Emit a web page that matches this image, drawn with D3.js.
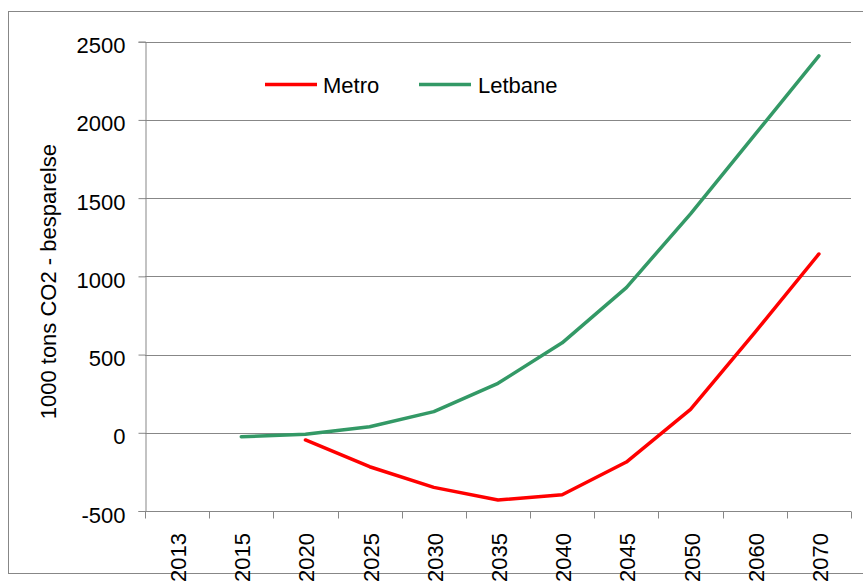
<!DOCTYPE html>
<html>
<head>
<meta charset="utf-8">
<script src="https://cdn.jsdelivr.net/npm/d3@7"></script>
<style>
  html, body { margin: 0; padding: 0; background: #fff; }
  svg { display: block; }
  text { font-family: "Liberation Sans", Arial, sans-serif; fill: #000; }
</style>
</head>
<body>
<svg id="chart" width="863" height="581"></svg>
<script>
const years = ["2013","2015","2020","2025","2030","2035","2040","2045","2050","2060","2070"];
const metro = [null, null, -46, -217, -349, -430, -396, -187, 150, 640, 1143];
const letbane = [null, -25, -10, 39, 135, 316, 575, 928, 1400, 1904, 2409];
const yTicks = [-500, 0, 500, 1000, 1500, 2000, 2500];
const seriesNames = ["Metro", "Letbane"];
const seriesColors = ["#FF0000", "#339966"];

const svg = d3.select("#chart");
const gridColor = "#878787";

// outer border
svg.append("rect")
  .attr("x", 8.5).attr("y", 11.5)
  .attr("width", 870).attr("height", 562)
  .attr("fill", "none").attr("stroke", gridColor).attr("stroke-width", 1);

const pLeft = 145, pRight = 851, pTop = 41.7, pBottom = 511;

const x = d3.scaleBand().domain(years).range([pLeft, pRight]).padding(0);
const y = d3.scaleLinear().domain([-500, 2500]).range([pBottom, pTop]);

// gridlines
svg.append("g").selectAll("line").data(yTicks).join("line")
  .attr("x1", pLeft).attr("x2", pRight)
  .attr("y1", d => Math.round(y(d)) + 0.5).attr("y2", d => Math.round(y(d)) + 0.5)
  .attr("stroke", gridColor).attr("stroke-width", 1);

// y axis
const yAxis = svg.append("g")
  .attr("transform", `translate(${pLeft + 0.5},0)`)
  .call(d3.axisLeft(y).tickValues(yTicks).tickSize(7).tickPadding(13).tickFormat(d => String(d)));
yAxis.select(".domain").attr("stroke", gridColor);
yAxis.selectAll(".tick line").attr("stroke", gridColor);
yAxis.selectAll(".tick text")
  .style("font-size", "22px")
  .style("font-family", '"Liberation Sans", Arial, sans-serif')
  .attr("fill", "#000")
  .attr("dy", "0.5em");

// x axis
const xAxis = svg.append("g")
  .attr("transform", `translate(0,${Math.round(pBottom) + 0.5})`)
  .call(d3.axisBottom(x).tickSize(0).tickPadding(0));
xAxis.select(".domain").attr("stroke", gridColor).attr("d", `M${pLeft},0H${pRight}`);
xAxis.selectAll(".tick text").remove();
// tick marks at band boundaries
const bounds = years.map(d => x(d)).concat([x(years[years.length - 1]) + x.bandwidth()]);
xAxis.append("g").selectAll("line").data(bounds).join("line")
  .attr("x1", d => Math.round(d) + 0.5).attr("x2", d => Math.round(d) + 0.5)
  .attr("y1", 0).attr("y2", 7)
  .attr("stroke", gridColor);
// rotated labels
svg.append("g").selectAll("text").data(years).join("text")
  .attr("transform", d => `translate(${x(d) + x.bandwidth() / 2 + 9},533) rotate(-90)`)
  .attr("text-anchor", "end")
  .style("font-size", "22px")
  .text(d => d);

// y axis title
svg.append("text")
  .attr("transform", `translate(56,281.7) rotate(-90)`)
  .attr("text-anchor", "middle")
  .style("font-size", "22px")
  .text("1000 tons CO2 - besparelse");

// lines
const line = d3.line()
  .defined(d => d.v !== null)
  .x(d => x(d.year) + x.bandwidth() / 2)
  .y(d => y(d.v));

[metro, letbane].forEach((vals, i) => {
  svg.append("path")
    .datum(years.map((yr, j) => ({ year: yr, v: vals[j] })))
    .attr("fill", "none")
    .attr("stroke", seriesColors[i])
    .attr("stroke-width", 3.5)
    .attr("stroke-linejoin", "round")
    .attr("stroke-linecap", "round")
    .attr("d", line);
});

// legend
const legendItems = [
  { name: seriesNames[0], color: seriesColors[0], x1: 265, x2: 317, tx: 323 },
  { name: seriesNames[1], color: seriesColors[1], x1: 419, x2: 471, tx: 478 }
];
const lg = svg.append("g");
legendItems.forEach(it => {
  lg.append("line")
    .attr("x1", it.x1).attr("x2", it.x2)
    .attr("y1", 84.5).attr("y2", 84.5)
    .attr("stroke", it.color).attr("stroke-width", 3.5);
  lg.append("text")
    .attr("x", it.tx).attr("y", 93)
    .style("font-size", "22px")
    .text(it.name);
});
</script>
</body>
</html>
